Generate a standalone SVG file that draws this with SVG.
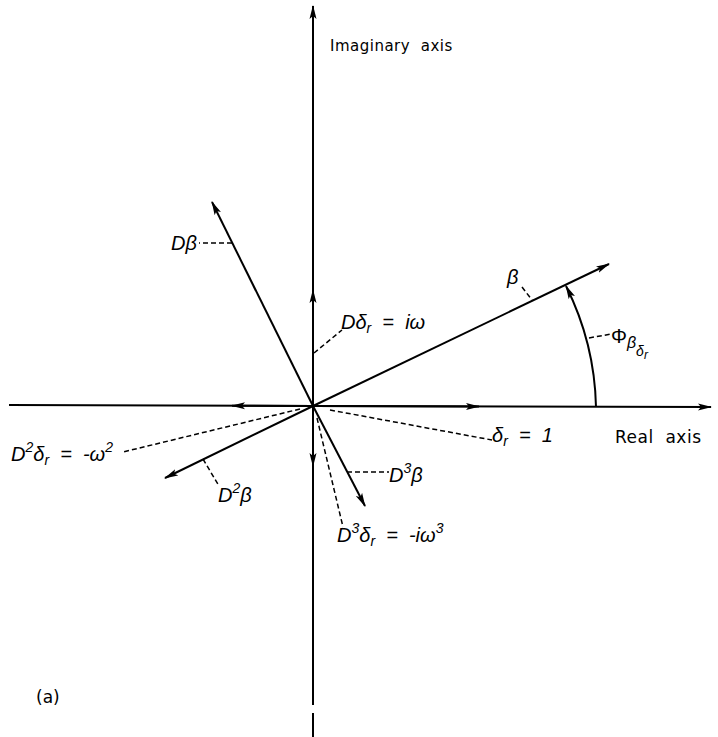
<svg xmlns="http://www.w3.org/2000/svg" width="718" height="737" viewBox="0 0 718 737">
<defs>
<marker id="ah" viewBox="0 0 14 8" refX="13" refY="4" markerWidth="14" markerHeight="8" markerUnits="userSpaceOnUse" orient="auto">
<path d="M0,0.5 L14,4 L0,7.5 L3,4 z" fill="#000"/>
</marker>
</defs>
<style>
.ax{stroke:#000;stroke-width:2;fill:none}
.v{stroke:#000;stroke-width:2;fill:none}
.d{stroke:#000;stroke-width:1.5;stroke-dasharray:5,3;fill:none}
.m{font-family:"Liberation Sans",Arial,sans-serif;font-style:italic;font-size:20px;fill:#000;white-space:pre}
.t{font-family:"DejaVu Sans","Liberation Sans",sans-serif;font-size:15px;fill:#000;white-space:pre}
.s{font-size:14px}
</style>
<rect width="718" height="737" fill="#fff"/>
<g id="connectors">
<line class="ax" x1="313" y1="406" x2="313" y2="6" marker-end="url(#ah)"/>
<line class="ax" x1="313" y1="406" x2="313" y2="290" marker-end="url(#ah)"/>
<line class="ax" x1="313" y1="406" x2="313" y2="705"/>
<line class="ax" x1="313" y1="406" x2="313" y2="466" marker-end="url(#ah)"/>
<line class="ax" x1="313" y1="713" x2="313" y2="737"/>
<line class="ax" x1="313" y1="406" x2="711" y2="407" marker-end="url(#ah)"/>
<line class="ax" x1="313" y1="406" x2="479" y2="406.5" marker-end="url(#ah)"/>
<line class="ax" x1="313" y1="406" x2="9" y2="405"/>
<line class="ax" x1="313" y1="406" x2="232" y2="405.7" marker-end="url(#ah)"/>
<line class="v" x1="313" y1="406" x2="609" y2="264" marker-end="url(#ah)"/>
<line class="v" x1="313" y1="406" x2="212" y2="202" marker-end="url(#ah)"/>
<line class="v" x1="313" y1="406" x2="165" y2="478" marker-end="url(#ah)"/>
<line class="v" x1="313" y1="406" x2="365" y2="506" marker-end="url(#ah)"/>
<path class="v" d="M596,407 A283,283 0 0 0 566,286" marker-end="url(#ah)"/>
<path class="d" d="M314,353 L342,330"/>
<path class="d" d="M232,243 L199,243"/>
<path class="d" d="M522,287 L532,300"/>
<path class="d" d="M589,338 L611,334"/>
<path class="d" d="M330,410 L492,440"/>
<path class="d" d="M300,409 L123,452"/>
<path class="d" d="M203,459 L219,486"/>
<path class="d" d="M347,472 L389,472"/>
<path class="d" d="M317,418 L343,527"/>
</g>
<g id="label-imag"><text class="t" x="330" y="51" style="letter-spacing:0.5px">Imaginary  axis</text></g>
<g id="label-real"><text class="t" x="615" y="443" style="font-size:17px;letter-spacing:0.5px">Real  axis</text></g>
<g id="label-a"><text class="t" x="36" y="703" style="font-size:17px">(a)</text></g>
<g id="label-Db"><text class="m" x="171" y="250">Dβ</text></g>
<g id="label-b"><text class="m" x="507" y="284">β</text></g>
<g id="label-Ddr"><text class="m" x="341" y="329">Dδ<tspan class="s" dy="4">r</tspan><tspan dy="-4">  =  iω</tspan></text></g>
<g id="label-phi"><text class="m" x="611" y="343" style="font-style:normal">Φ<tspan style="font-style:italic;font-size:16px" dy="5">β</tspan><tspan style="font-style:italic;font-size:14px" dy="8">δ</tspan><tspan style="font-style:italic;font-size:12px" dy="3">r</tspan></text></g>
<g id="label-dr"><text class="m" x="492" y="442">δ<tspan class="s" dy="4">r</tspan><tspan dy="-4">  =  1</tspan></text></g>
<g id="label-D2dr"><text class="m" x="11" y="461">D<tspan class="s" dy="-9">2</tspan><tspan dy="9">δ</tspan><tspan class="s" dy="4">r</tspan><tspan dy="-4">  =  -ω</tspan><tspan class="s" dy="-9">2</tspan></text></g>
<g id="label-D2b"><text class="m" x="218" y="502">D<tspan class="s" dy="-9">2</tspan><tspan dy="9">β</tspan></text></g>
<g id="label-D3b"><text class="m" x="389" y="482">D<tspan class="s" dy="-9">3</tspan><tspan dy="9">β</tspan></text></g>
<g id="label-D3dr"><text class="m" x="337" y="542">D<tspan class="s" dy="-9">3</tspan><tspan dy="9">δ</tspan><tspan class="s" dy="4">r</tspan><tspan dy="-4">  =  -iω</tspan><tspan class="s" dy="-9">3</tspan></text></g>
</svg>
